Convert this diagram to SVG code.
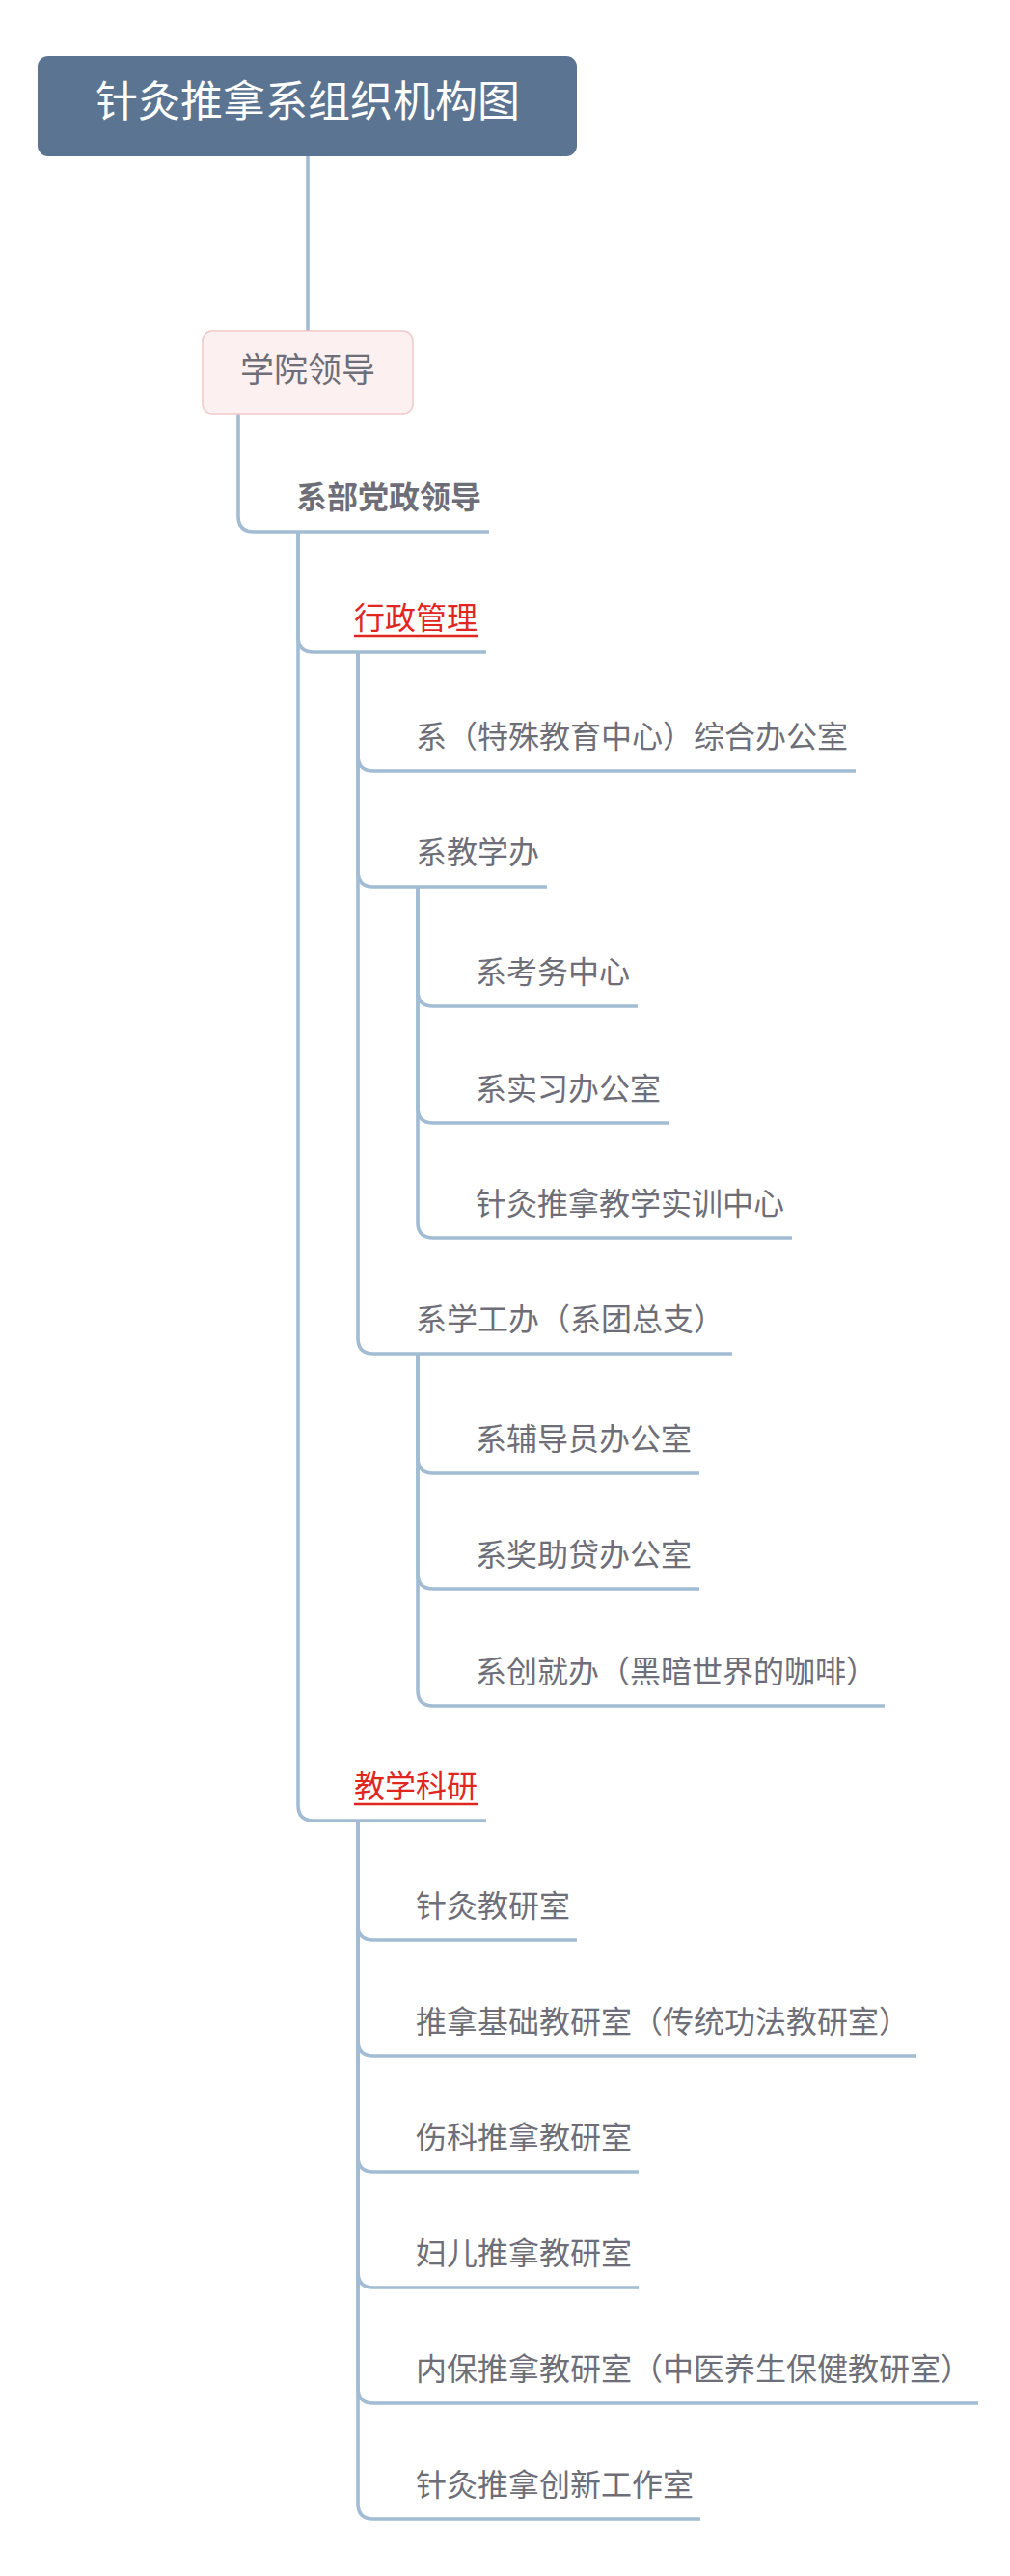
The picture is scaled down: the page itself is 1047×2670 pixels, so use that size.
<svg xmlns="http://www.w3.org/2000/svg" width="1047" height="2670" viewBox="0 0 1047 2670">
<style>
.c{fill:none;stroke:#a2bcd4;stroke-width:3.6;stroke-linecap:butt}
.t{font-family:"Noto Sans CJK SC","Noto Sans",sans-serif;font-size:32px;fill:#6e6e78}
.b{font-weight:bold}
.r{fill:#e0261e}
.u{stroke:#e0261e;stroke-width:2.5}
</style>
<rect width="1047" height="2670" fill="#ffffff"/>
<g id="connectors">
<path class="c" d="M319 161V343"/>
<path class="c" d="M247 429V535Q247 551 263 551H507"/>
<path class="c" d="M309 551V660Q309 676 325 676H504"/>
<path class="c" d="M309 551V1871Q309 1887 325 1887H504"/>
<path class="c" d="M371 676V783Q371 799 387 799H887"/>
<path class="c" d="M371 676V903Q371 919 387 919H567"/>
<path class="c" d="M371 676V1387Q371 1403 387 1403H759"/>
<path class="c" d="M433 919V1027Q433 1043 449 1043H661"/>
<path class="c" d="M433 919V1148Q433 1164 449 1164H693"/>
<path class="c" d="M433 919V1267Q433 1283 449 1283H821"/>
<path class="c" d="M433 1403V1511Q433 1527 449 1527H725"/>
<path class="c" d="M433 1403V1631Q433 1647 449 1647H725"/>
<path class="c" d="M433 1403V1752Q433 1768 449 1768H917"/>
<path class="c" d="M371 1887V1995Q371 2011 387 2011H598"/>
<path class="c" d="M371 1887V2115Q371 2131 387 2131H950"/>
<path class="c" d="M371 1887V2235Q371 2251 387 2251H662"/>
<path class="c" d="M371 1887V2355Q371 2371 387 2371H662"/>
<path class="c" d="M371 1887V2475Q371 2491 387 2491H1014"/>
<path class="c" d="M371 1887V2595Q371 2611 387 2611H726"/>
</g>
<g id="root">
<rect x="39" y="58" width="559" height="104" rx="11" fill="#5b7491"/>
<text x="319" y="121" text-anchor="middle" style="font-family:'Noto Sans CJK SC','Noto Sans',sans-serif;font-size:44px;fill:#ffffff">针灸推拿系组织机构图</text>
</g>
<g id="n-xueyuan">
<rect x="210" y="343" width="218" height="86" rx="10" fill="#fcf0f0" stroke="#f0c9c9" stroke-width="1.5"/>
<text x="319" y="396" text-anchor="middle" class="t" style="font-size:35px">学院领导</text>
</g>
<g id="n-xibu"><text x="307" y="527" class="t b">系部党政领导</text></g>
<g id="n-xingzheng"><text x="367" y="652" class="t r">行政管理</text><line class="u" x1="367" y1="659" x2="495" y2="659"/></g>
<g id="n-zonghe"><text x="431" y="775" class="t">系（特殊教育中心）综合办公室</text></g>
<g id="n-jiaoxueban"><text x="431" y="895" class="t">系教学办</text></g>
<g id="n-kaowu"><text x="493" y="1019" class="t">系考务中心</text></g>
<g id="n-shixi"><text x="493" y="1140" class="t">系实习办公室</text></g>
<g id="n-shixun"><text x="493" y="1259" class="t">针灸推拿教学实训中心</text></g>
<g id="n-xuegong"><text x="431" y="1379" class="t">系学工办（系团总支）</text></g>
<g id="n-fudao"><text x="493" y="1503" class="t">系辅导员办公室</text></g>
<g id="n-jiangzhu"><text x="493" y="1623" class="t">系奖助贷办公室</text></g>
<g id="n-chuangjiu"><text x="493" y="1744" class="t">系创就办（黑暗世界的咖啡）</text></g>
<g id="n-jiaoxuekeyan"><text x="367" y="1863" class="t r">教学科研</text><line class="u" x1="367" y1="1870" x2="495" y2="1870"/></g>
<g id="n-zhenjiu"><text x="431" y="1987" class="t">针灸教研室</text></g>
<g id="n-jichu"><text x="431" y="2107" class="t">推拿基础教研室（传统功法教研室）</text></g>
<g id="n-shangke"><text x="431" y="2227" class="t">伤科推拿教研室</text></g>
<g id="n-fuer"><text x="431" y="2347" class="t">妇儿推拿教研室</text></g>
<g id="n-neibao"><text x="431" y="2467" class="t">内保推拿教研室（中医养生保健教研室）</text></g>
<g id="n-chuangxin"><text x="431" y="2587" class="t">针灸推拿创新工作室</text></g>
</svg>
